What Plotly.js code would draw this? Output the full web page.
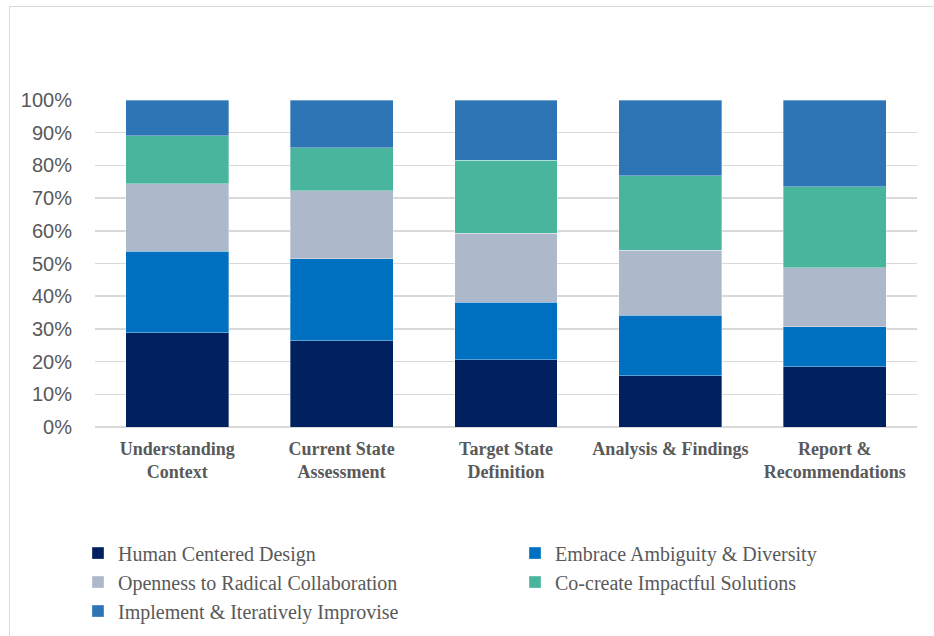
<!DOCTYPE html>
<html>
<head>
<meta charset="utf-8">
<script src="https://cdn.plot.ly/plotly-3.0.1.min.js"></script>
<style>
  html, body { margin: 0; padding: 0; background: #fff; }
  #wrap { position: relative; width: 934px; height: 636px; }
  #chart { position: absolute; left: 0; top: 0; width: 934px; height: 636px; }
  #frame { position: absolute; left: 9px; top: 6px; width: 930px; height: 640px;
           border-left: 1px solid #d9d9d9; border-top: 1px solid #d9d9d9; pointer-events: none; }
</style>
</head>
<body>
<div id="wrap">
  <div id="chart"></div>
  <div id="frame"></div>
</div>
<script>
const categories = [
  "Understanding<br>Context",
  "Current State<br>Assessment",
  "Target State<br>Definition",
  "Analysis & Findings",
  "Report &<br>Recommendations"
];
const seriesNames = [
  "Human Centered Design",
  "Embrace Ambiguity & Diversity",
  "Openness to Radical Collaboration",
  "Co-create Impactful Solutions",
  "Implement & Iteratively Improvise"
];
const humanCentered   = [28.9, 26.4, 20.6, 15.6, 18.5];
const embraceAmbig    = [24.8, 25.1, 17.6, 18.5, 12.2];
const opennessCollab  = [20.7, 20.8, 21.1, 19.9, 18.0];
const coCreate        = [14.7, 13.1, 22.3, 22.9, 24.7];
const implementImprov = [10.9, 14.6, 18.4, 23.1, 26.6];
const seriesValues = [humanCentered, embraceAmbig, opennessCollab, coCreate, implementImprov];
const colors = ["#002060", "#0070C0", "#ADB9CA", "#4AB59D", "#2E75B6"];
const legendGroups = ["legend", "legend2", "legend", "legend2", "legend"];
const yTickVals = [0, 10, 20, 30, 40, 50, 60, 70, 80, 90, 100];
const yTickText = ["0%", "10%", "20%", "30%", "40%", "50%", "60%", "70%", "80%", "90%", "100%"];

const traces = seriesNames.map((name, i) => ({
  type: "bar",
  name: name,
  x: categories,
  y: seriesValues[i],
  legend: legendGroups[i],
  marker: { color: colors[i], line: { color: "rgba(255,255,255,0.45)", width: 0.75 } },
  hoverinfo: "x+y+name"
}));

const legendFont = { family: "Liberation Serif, Times New Roman, serif", size: 20, color: "#595959" };
const legendCommon = {
  orientation: "v",
  xref: "container",
  yref: "container",
  xanchor: "left",
  y: 0.161,
  yanchor: "top",
  traceorder: "normal",
  font: legendFont,
  itemclick: false,
  itemdoubleclick: false,
  bgcolor: "rgba(0,0,0,0)"
};

const layout = {
  width: 934,
  height: 636,
  barmode: "stack",
  bargap: 0.374,
  paper_bgcolor: "#ffffff",
  plot_bgcolor: "#ffffff",
  margin: { l: 95, r: 17, t: 100, b: 209, autoexpand: false },
  showlegend: true,
  xaxis: {
    type: "category",
    tickfont: { family: "Liberation Serif, Times New Roman, serif", size: 18, color: "#595959", weight: "bold" },
    showgrid: false,
    showline: false,
    zeroline: false,
    ticks: "",
    ticklabelstandoff: 9
  },
  yaxis: {
    range: [0, 100],
    tickvals: yTickVals,
    ticktext: yTickText,
    tickfont: { family: "Liberation Sans, Arial, sans-serif", size: 20, color: "#595959" },
    showgrid: true,
    gridcolor: "#d9d9d9",
    gridwidth: 1.5,
    zeroline: true,
    zerolinecolor: "#d9d9d9",
    zerolinewidth: 1.5,
    showline: false,
    ticks: "",
    ticklabelstandoff: 22,
    fixedrange: true
  },
  legend: Object.assign({}, legendCommon, { x: 0.0835 }),
  legend2: Object.assign({}, legendCommon, { x: 0.5514 })
};

Plotly.newPlot("chart", traces, layout, { displayModeBar: false, staticPlot: true });
</script>
</body>
</html>
